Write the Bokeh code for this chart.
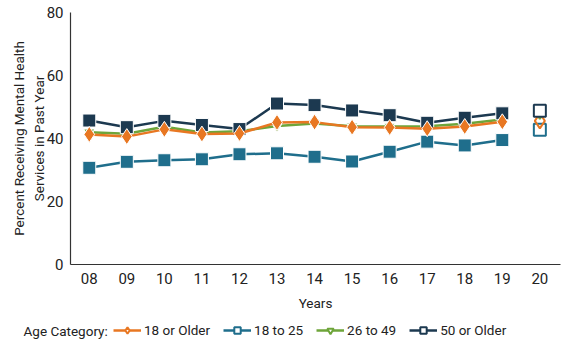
from bokeh.plotting import figure
from bokeh.layouts import column
from bokeh.models import Legend, LegendItem, FixedTicker, Range1d, Label
from bokeh.embed import file_html
from bokeh.resources import INLINE

years = [8, 9, 10, 11, 12, 13, 14, 15, 16, 17, 18, 19]
year_last = [20]
tick_years = [8, 9, 10, 11, 12, 13, 14, 15, 16, 17, 18, 19, 20]
tick_labels = ["08", "09", "10", "11", "12", "13", "14", "15", "16", "17", "18", "19", "20"]

older18 = [41.3, 40.6, 42.9, 41.4, 41.6, 45.1, 45.2, 43.6, 43.5, 43.1, 43.8, 45.3]
older18_last = [45.6]
age18_25 = [30.7, 32.6, 33.1, 33.4, 35.0, 35.3, 34.2, 32.7, 35.8, 39.0, 37.8, 39.5]
age18_25_last = [42.8]
age26_49 = [42.0, 41.5, 43.7, 41.9, 42.3, 44.0, 44.8, 43.9, 43.8, 43.9, 44.7, 46.0]
age26_49_last = [48.0]
older50 = [45.7, 43.6, 45.6, 44.3, 43.0, 51.1, 50.6, 48.9, 47.4, 45.0, 46.6, 48.0]
older50_last = [48.8]

series_names = ["18 or Older", "18 to 25", "26 to 49", "50 or Older"]
legend_title = "Age Category:"

FONT = "Roboto"
TXT = "#222222"
ORANGE = "#E87722"
TEAL = "#1F6E8C"
GREEN = "#6EA53A"
NAVY = "#1C3950"

p = figure(width=566, height=314, output_backend="svg", toolbar_location=None,
           x_range=Range1d(7.5, 20.55), y_range=Range1d(0, 80),
           min_border_left=70, min_border_right=6, min_border_top=12, min_border_bottom=50)
p.outline_line_color = None
p.xgrid.visible = False
p.ygrid.visible = False
p.frame_align = False

for ax in (p.xaxis[0], p.yaxis[0]):
    ax.axis_line_color = "#333333"
    ax.axis_line_width = 1.2
    ax.major_tick_line_color = None
    ax.minor_tick_line_color = None
    ax.major_tick_out = 0
    ax.major_tick_in = 0
    ax.minor_tick_out = 0
    ax.minor_tick_in = 0
    ax.major_label_text_font = FONT
    ax.major_label_text_font_size = "15px"
    ax.major_label_text_color = TXT
    ax.axis_label_text_font = FONT
    ax.axis_label_text_font_style = "normal"
    ax.axis_label_text_font_size = "13.5px"
    ax.axis_label_text_color = TXT

p.xaxis.ticker = FixedTicker(ticks=tick_years)
p.xaxis.major_label_overrides = {t: l for t, l in zip(tick_years, tick_labels)}
p.xaxis.axis_label = "Years"
p.xaxis.major_label_standoff = 8
p.xaxis.axis_label_standoff = 8
p.yaxis.ticker = FixedTicker(ticks=[0, 20, 40, 60, 80])
p.yaxis.axis_label = "Percent Receiving Mental Health\nServices in Past Year"
p.yaxis.major_label_standoff = 7
p.yaxis.axis_label_standoff = -3

specs = {
    "18 to 25": (age18_25, age18_25_last, TEAL, "square", 13),
    "26 to 49": (age26_49, age26_49_last, GREEN, "inverted_triangle", 11),
    "18 or Older": (older18, older18_last, ORANGE, "diamond", 16),
    "50 or Older": (older50, older50_last, NAVY, "square", 13),
}
draw_order = ["18 to 25", "26 to 49", "50 or Older", "18 or Older"]
for name in draw_order:
    vals, last, col, mk, sz = specs[name]
    p.line(years, vals, line_color=col, line_width=2.5)
    p.scatter(years, vals, marker=mk, size=sz, fill_color=col, line_color="white", line_width=1)

for name in ["18 to 25", "26 to 49", "18 or Older", "50 or Older"]:
    vals, last, col, mk, sz = specs[name]
    p.scatter(year_last, last, marker=mk, size=sz - 1, fill_color="white",
              fill_alpha=0.0 if name == "18 or Older" else 1.0,
              line_color=col, line_width=2)

# legend strip
lg = figure(width=566, height=30, output_backend="svg", toolbar_location=None,
            x_range=Range1d(0, 566), y_range=Range1d(0, 30),
            x_axis_location=None, y_axis_location=None,
            min_border_left=0, min_border_right=0, min_border_top=0, min_border_bottom=0)
lg.xgrid.visible = False
lg.ygrid.visible = False
lg.outline_line_color = None
lg.frame_align = False

items = []
for name in series_names:
    vals, last, col, mk, sz = specs[name]
    lr = lg.line([-50, -40], [-50, -50], line_color=col, line_width=2.5)
    hr = lg.scatter([-50], [-50], marker=mk, size=sz - 2, fill_color="white", line_color=col, line_width=2)
    items.append(LegendItem(label=name, renderers=[lr, hr]))

legend = Legend(items=items, orientation="horizontal", location=(113, 6),
                glyph_width=28, glyph_height=16, label_standoff=3, spacing=13,
                padding=0, margin=0, border_line_color=None, background_fill_alpha=0,
                label_text_font=FONT, label_text_font_size="13.5px", label_text_color=TXT)
lg.add_layout(legend, "center")
lg.add_layout(Label(x=23, y=14, text=legend_title, text_font=FONT, text_font_size="13.5px",
                    text_color=TXT, text_baseline="middle"))

layout = column(p, lg, spacing=0)
open("out.html", "w").write(file_html(layout, INLINE))
